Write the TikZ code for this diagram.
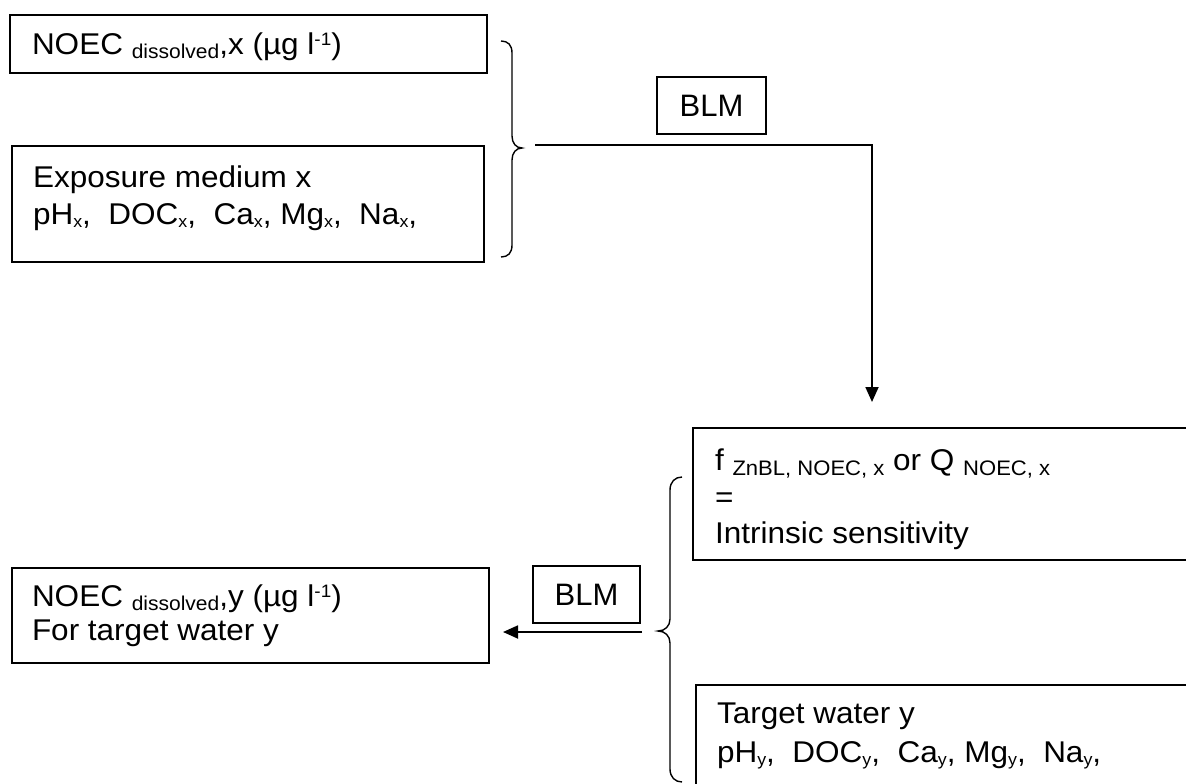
\documentclass[tikz,border=0pt]{standalone}
\usepackage{fontspec}
\setmainfont{Liberation Sans}[FakeStretch=1.05]
\newfontfamily\blmfont{Liberation Sans}
\usetikzlibrary{arrows.meta}
\newcommand\sbd[1]{\raisebox{-4pt}{\fontsize{20}{20}\selectfont #1}}
\newcommand\sbq[1]{\raisebox{-5pt}{\fontsize{21}{21}\selectfont #1}}
\newcommand\sbs[1]{\raisebox{-3pt}{\fontsize{17}{17}\selectfont #1}}
\newcommand\spr[1]{\raisebox{9pt}{\fontsize{18}{18}\selectfont #1}}
\begin{document}
\begin{tikzpicture}[x=1pt,y=-1pt,
  box/.style={draw, line width=1.6pt, inner sep=0pt, outer sep=0pt},
  txt/.style={anchor=base west, inner sep=0pt, outer sep=0pt, font=\fontsize{30}{36}\selectfont},
  blm/.style={box, font=\blmfont\fontsize{31}{36}\selectfont},
  conn/.style={line width=1.8pt},
  brc/.style={line width=1.4pt},
  tip/.style={-{Triangle[length=15pt,width=13pt]}}]
\path[use as bounding box, fill=white] (0,0) rectangle (1186,784);
\clip (0,0) rectangle (1186,784);

% boxes
\node[box, minimum width=477pt, minimum height=58pt] (box1) at (248.5,44) {};
\node[box, minimum width=472pt, minimum height=116pt] (box2) at (248,204) {};
\node[box, minimum width=477pt, minimum height=95pt] (box3) at (250.5,615.5) {};
\node[box, minimum width=507pt, minimum height=132pt] (fbox) at (946.5,494) {};
\node[box, minimum width=504pt, minimum height=115pt] (tbox) at (948,742.5) {};
\node[blm, minimum width=109pt, minimum height=57pt] (blm1) at (711.5,105.5) {BLM};
\node[blm, minimum width=107pt, minimum height=57pt] (blm2) at (586.5,594.5) {BLM};

% texts
\node[txt] (t1) at (32,55) {NOEC \sbd{dissolved},x (µg l\spr{-1})};
\node[txt] (t2a) at (33,187) {Exposure medium x};
\node[txt] (t2b) at (33,224) {pH\sbs{x},\ \ DOC\sbs{x},\ \ Ca\sbs{x}, Mg\sbs{x},\ \ Na\sbs{x},};
\node[txt] (t3a) at (32,606) {NOEC \sbd{dissolved},y (µg l\spr{-1})};
\node[txt] (t3b) at (32,640) {For target water y};
\node[txt] (f1) at (715,470) {f \sbq{ZnBL, NOEC, x} or Q \sbq{NOEC, x}};
\node[txt] (f2) at (715,507) {=};
\node[txt] (f3) at (715,543) {Intrinsic sensitivity};
\node[txt] (g1) at (717,723) {Target water y};
\node[txt] (g2) at (717,762) {pH\sbs{y},\ \ DOC\sbs{y},\ \ Ca\sbs{y}, Mg\sbs{y},\ \ Na\sbs{y},};

% braces
\draw[brc] (501,41) .. controls (508,41) and (512,45) .. (512,53) -- (512,136)
  .. controls (512,143) and (516,148) .. (522,148)
  .. controls (516,148) and (512,153) .. (512,160) -- (512,245)
  .. controls (512,253) and (508,257) .. (501,257);
\draw[brc] (682,477) .. controls (675,477) and (670,482) .. (670,490) -- (670,619)
  .. controls (670,626) and (665,631) .. (658,631)
  .. controls (665,631) and (670,636) .. (670,643) -- (670,769)
  .. controls (670,777) and (675,782) .. (682,782);

% connectors
\coordinate (c1s) at (535,145);
\coordinate (c1e) at (872,402);
\draw[conn, tip] (c1s) -| (c1e);
\coordinate (c2s) at (642,632);
\coordinate (c2e) at (503,632);
\draw[conn, tip] (c2s) -- (c2e);
\end{tikzpicture}
\end{document}
